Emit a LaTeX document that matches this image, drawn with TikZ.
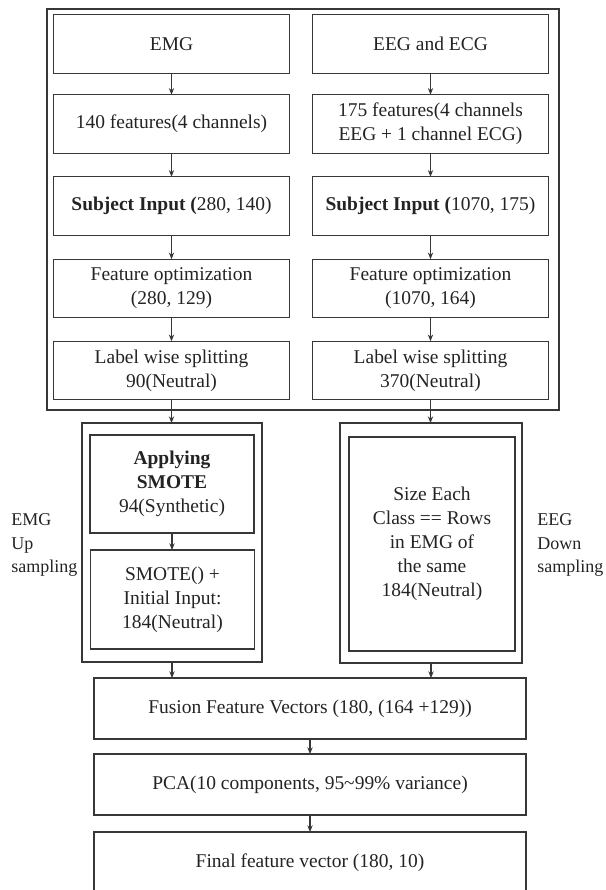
\documentclass[tikz,border=0pt]{standalone}
\usepackage{fontspec}
\setmainfont{Liberation Serif}
\usetikzlibrary{arrows.meta}
\definecolor{linec}{RGB}{55,55,55}
\definecolor{textc}{RGB}{35,35,35}

\tikzset{
  box/.style={draw=linec,line width=0.9pt,text=textc,align=center,inner sep=0pt,outer sep=0pt,font=\fontsize{14.6}{18}\selectfont},
  colbox/.style={box,minimum width=177pt,minimum height=44pt},
  widebox/.style={box,minimum width=324pt,minimum height=45.75pt},
  side/.style={text=textc,align=left,inner sep=0pt,font=\fontsize{13.5}{17.6}\selectfont},
  arr/.style={draw=linec,line width=0.9pt,-{Stealth[length=5pt,width=4pt]}}
}

\begin{document}
\begin{tikzpicture}[x=0.75pt,y=0.75pt,yscale=-1,xscale=1]
   	%set diagram to 606 x 890
   	\useasboundingbox (0,0) rectangle (606,890);
   	\clip (0,0) rectangle (606,890);
   	
   	%outer frame
   	\draw [draw=linec,line width=0.9pt] (47,9) rectangle (559,410);
   	
   	\node [colbox] (emg) at (171.5,44) {EMG};
   	\node [colbox] (featL) at (171.5,124) {140 features(4 channels)};
   	\node [colbox] (subjL) at (171.5,206) {\textbf{Subject Input (}280, 140)};
   	\node [colbox] (optL) at (171.5,288.5) {Feature optimization\\(280, 129)};
   	\node [colbox] (lblL) at (171.5,370.5) {Label wise splitting\\90(Neutral)};
   	
   	\node [colbox] (eeg) at (430.5,44) {EEG and ECG};
   	\node [colbox] (featR) at (430.5,124) {175 features(4 channels\\EEG + 1 channel ECG)};
   	\node [colbox] (subjR) at (430.5,206) {\textbf{Subject Input (}1070, 175)};
   	\node [colbox] (optR) at (430.5,288.5) {Feature optimization\\(1070, 164)};
   	\node [colbox] (lblR) at (430.5,370.5) {Label wise splitting\\370(Neutral)};
   	
   	\draw [arr] (emg) -- (featL);
   	\draw [arr] (featL) -- (subjL);
   	\draw [arr] (subjL) -- (optL);
   	\draw [arr] (optL) -- (lblL);
   	\draw [arr] (eeg) -- (featR);
   	\draw [arr] (featR) -- (subjR);
   	\draw [arr] (subjR) -- (optR);
   	\draw [arr] (optR) -- (lblR);
   	
   	%sampling groups
   	\node [box,minimum width=135pt,minimum height=179.25pt] (grpL) at (172,542.5) {};
   	\node [box,minimum width=123pt,minimum height=73.5pt] (smote) at (172,484) {\textbf{Applying}\\\textbf{SMOTE}\\94(Synthetic)};
   	\node [box,minimum width=123pt,minimum height=74.25pt] (init) at (172.5,599.5) {SMOTE() +\\Initial Input:\\184(Neutral)};
   	\node [box,minimum width=136.5pt,minimum height=180pt] (grpR) at (431,543) {};
   	\node [box,minimum width=124.5pt,minimum height=160.5pt] (down) at (432,544) {Size Each\\Class == Rows\\in EMG of\\the same\\184(Neutral)};
   	
   	\node [side,anchor=west] (upL) at (11,545) {EMG\\Up\\sampling};
   	\node [side,anchor=west] (downR) at (537,545) {EEG\\Down\\sampling};
   	
   	\draw [arr] (lblL.south) -- (lblL.south |- grpL.north);
   	\draw [arr] (lblR.south) -- (lblR.south |- grpR.north);
   	\draw [arr] (smote.south) -- (smote.south |- init.north);
   	
   	\node [widebox] (fus) at (310,708.5) {Fusion Feature Vectors (180, (164 +129))};
   	\node [widebox] (pca) at (310,784.5) {PCA(10 components, 95\textasciitilde99\% variance)};
   	\node [widebox] (fin) at (310,862.5) {Final feature vector (180, 10)};
   	
   	\draw [arr] (grpL.south) -- (grpL.south |- fus.north);
   	\draw [arr] (grpR.south) -- (grpR.south |- fus.north);
   	\draw [arr] (fus) -- (pca);
   	\draw [arr] (pca) -- (fin);
   	
\end{tikzpicture}
\end{document}
